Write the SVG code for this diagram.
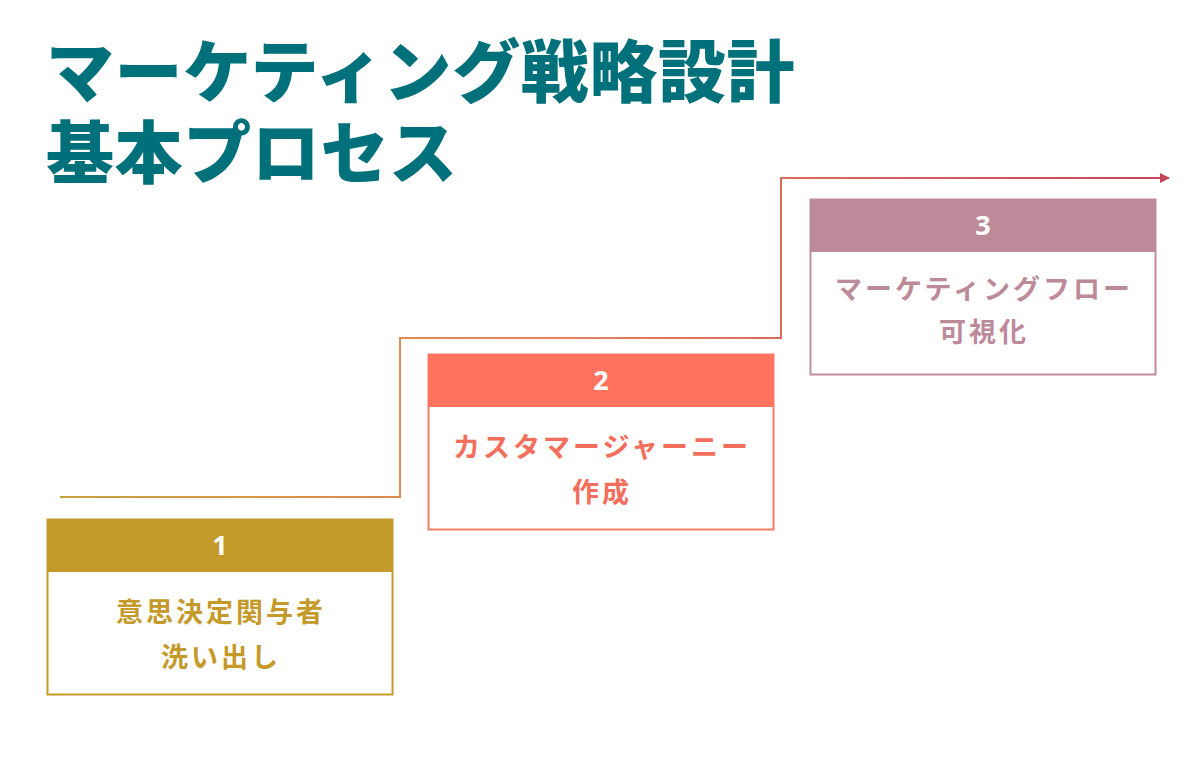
<svg xmlns="http://www.w3.org/2000/svg" width="1200" height="770" viewBox="0 0 1200 770">
<defs>
<linearGradient id="flow" gradientUnits="userSpaceOnUse" x1="60" y1="0" x2="1170" y2="0">
<stop offset="0" stop-color="#c9a23a"/>
<stop offset="0.45" stop-color="#e8805e"/>
<stop offset="1" stop-color="#c2465a"/>
</linearGradient>
<marker id="arrow" viewBox="0 0 10 10" refX="9" refY="5" markerWidth="10" markerHeight="10" markerUnits="userSpaceOnUse" orient="auto">
<path d="M0,0 L10,5 L0,10 z" fill="#c2465a"/>
</marker>
</defs>
<style>
.title{font-family:"Noto Sans CJK JP","Noto Sans CJK SC",sans-serif;font-weight:900;font-size:68px;letter-spacing:0.6px;fill:#00707a}
.num{font-family:"Noto Sans","Noto Sans CJK JP",sans-serif;font-weight:700;font-size:27px;fill:#ffffff;text-anchor:middle}
.body{font-family:"Noto Sans CJK JP","Noto Sans CJK SC",sans-serif;font-weight:700;font-size:27px;letter-spacing:3px;text-anchor:middle}
.frame{fill:#ffffff;stroke-width:2}
</style>
<rect width="1200" height="770" fill="#ffffff"/>
<g id="title">
<text class="title" x="46" y="97">マーケティング戦略設計</text>
<text class="title" x="46" y="178">基本プロセス</text>
</g>
<g id="connectors">
<path d="M60,497 H400 V338 H781 V178 H1169" fill="none" stroke="url(#flow)" stroke-width="2" marker-end="url(#arrow)"/>
</g>
<g id="step1">
<rect class="frame" x="47.5" y="519.5" width="345" height="175" stroke="#c49a2a"/>
<rect x="47" y="519" width="346" height="53" fill="#c49a2a"/>
<text class="num" x="220" y="555">1</text>
<text class="body" x="221" y="622" fill="#c49a2a">意思決定関与者</text>
<text class="body" x="221" y="667" fill="#c49a2a">洗い出し</text>
</g>
<g id="step2">
<rect class="frame" x="428.5" y="354.5" width="345" height="175" stroke="#f47d68"/>
<rect x="428" y="354" width="346" height="53" fill="#ff735e"/>
<text class="num" x="601" y="390">2</text>
<text class="body" x="602" y="457" fill="#f46e5c">カスタマージャーニー</text>
<text class="body" x="602" y="502" fill="#f46e5c">作成</text>
</g>
<g id="step3">
<rect class="frame" x="810.5" y="199.5" width="345" height="175" stroke="#c08d9c"/>
<rect x="810" y="199" width="346" height="53" fill="#bd8a9a"/>
<text class="num" x="983" y="235">3</text>
<text class="body" x="984" y="299" fill="#bd8a9a">マーケティングフロー</text>
<text class="body" x="984" y="342" fill="#bd8a9a">可視化</text>
</g>
</svg>
